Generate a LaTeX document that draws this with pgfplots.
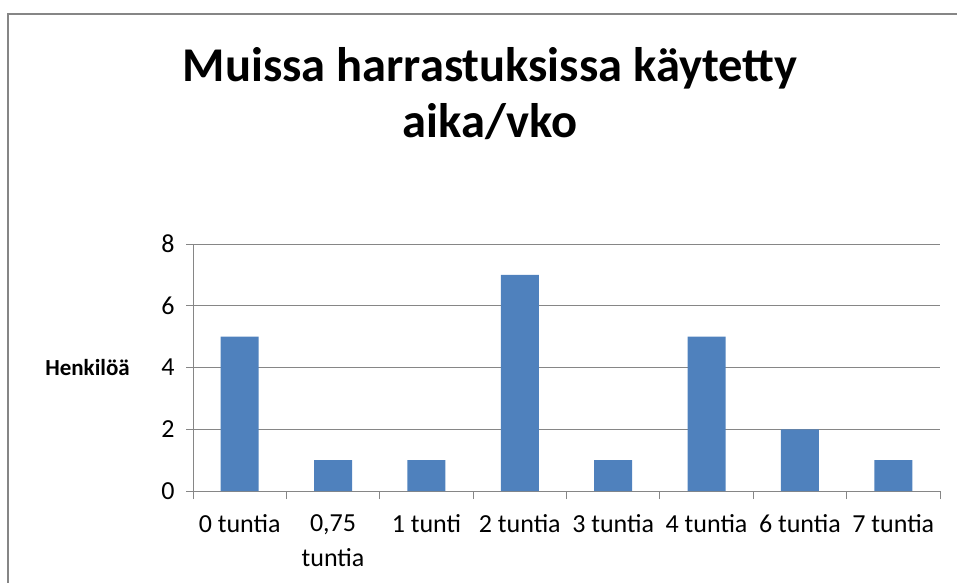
\documentclass[border=0pt]{standalone}
\usepackage{pgfplots}
\pgfplotsset{compat=1.18}
\usepackage{fontspec}
\setmainfont{Carlito}
\definecolor{barblue}{HTML}{4F81BD}
\definecolor{gridgray}{HTML}{868686}
\begin{document}
\begin{tikzpicture}[x=1pt,y=1pt]
\useasboundingbox (0,0) rectangle (957,-583);
\fill[gridgray] (7.25,-583) rectangle (8.75,-13.25);
\fill[gridgray] (7.25,-13.25) rectangle (957,-14.75);
\begin{axis}[
  at={(193pt,-491pt)}, anchor=south west,
  scale only axis, width=747pt, height=247pt,
  xmin=-0.5, xmax=7.5, ymin=0, ymax=8,
  axis x line=bottom, axis y line=left,
  axis line style={-, gridgray, line width=1pt},
  xtick={0,...,7},
  xticklabels={0 tuntia,{0,75\\tuntia},1 tunti,2 tuntia,3 tuntia,4 tuntia,6 tuntia,7 tuntia},
  xticklabel style={align=center, font=\fontsize{26}{35}\selectfont, yshift=-13pt},
  major x tick style={draw=none},
  minor xtick={-0.5,0.5,...,7.5},
  minor tick length=8pt,
  major tick length=7pt,
  tick align=outside,
  tick style={gridgray, line width=1pt},
  ytick={0,2,4,6,8},
  yticklabel style={font=\fontsize{26}{31}\selectfont, xshift=-8pt},
  /pgf/number format/assume math mode=true,
  ymajorgrids,
  grid style={gridgray, line width=1pt},
  ylabel={Henkilöä},
  ylabel style={rotate=-90, at={(axis description cs:0,0.5)}, anchor=east, inner sep=0pt, xshift=-63pt, font=\bfseries\fontsize{23}{28}\selectfont},
  title={Muissa harrastuksissa käytetty\\aika/vko},
  title style={align=center, at={(axis description cs:0.3976,1)}, anchor=south, yshift=95pt, font=\bfseries\fontsize{48.5}{56}\selectfont},
  clip=false,
]
\addplot[ybar, bar width=38pt, fill=barblue, draw=none] coordinates {
  (0,5) (1,1) (2,1) (3,7) (4,1) (5,5) (6,2) (7,1)
};
\end{axis}
\end{tikzpicture}
\end{document}
